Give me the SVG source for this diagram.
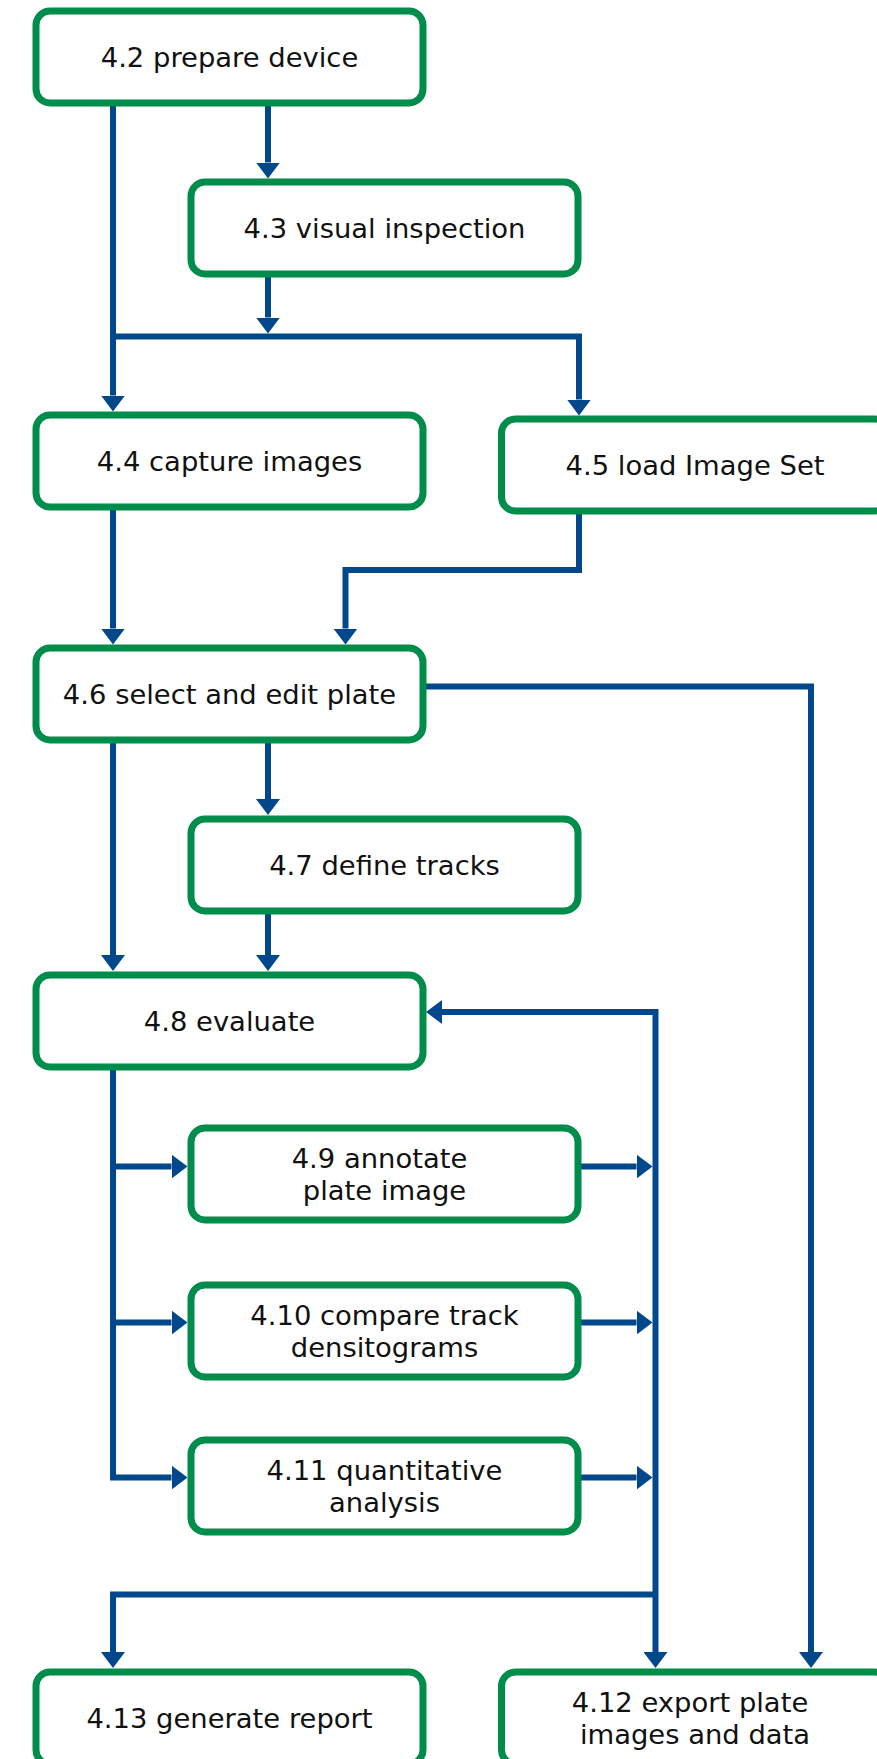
<svg xmlns="http://www.w3.org/2000/svg" width="877" height="1759" viewBox="0 0 877 1759">
<style>
.box{fill:#ffffff;stroke:#008c4b;stroke-width:7}
.lbl{font-family:"DejaVu Sans","Liberation Sans",sans-serif;font-size:27.4px;fill:#111111;text-anchor:middle}
.con{fill:none;stroke:#00478c;stroke-width:6;stroke-linejoin:miter;stroke-linecap:butt}
.ah{marker-end:url(#arr)}
</style>
<defs>
<marker id="arr" viewBox="0 0 16 24" refX="0" refY="12" markerWidth="16" markerHeight="24" markerUnits="userSpaceOnUse" orient="auto-start-reverse">
<path d="M0,0 L16,12 L0,24 z" fill="#00478c"/>
</marker>
</defs>
<rect width="877" height="1759" fill="#ffffff"/>
<g id="connectors">
<path class="con ah" d="M113,104 V395.5"/>
<path class="con ah" d="M113,336.5 H579 V399.5"/>
<path class="con ah" d="M268,104 V162.5"/>
<path class="con ah" d="M268,274 V317.5"/>
<path class="con ah" d="M113,507 V628.5"/>
<path class="con ah" d="M579,510 V570 H345.5 V628.5"/>
<path class="con ah" d="M423,686.5 H811 V1652"/>
<path class="con ah" d="M113,740 V955"/>
<path class="con ah" d="M268,740 V799"/>
<path class="con ah" d="M268,911 V955"/>
<path class="con ah" d="M113,1066 V1477.5 H171.5"/>
<path class="con ah" d="M113,1166.5 H171.5"/>
<path class="con ah" d="M113,1322.5 H171.5"/>
<path class="con ah" d="M578,1166.5 H636.5"/>
<path class="con ah" d="M578,1322.5 H636.5"/>
<path class="con ah" d="M578,1477.5 H636.5"/>
<path class="con" d="M442,1012 H655.5 V1652" marker-start="url(#arr)" marker-end="url(#arr)"/>
<path class="con ah" d="M655.5,1594.5 H113 V1652"/>
</g>
<g id="n42"><rect class="box" x="36" y="11" width="387" height="92" rx="14"/><text class="lbl" x="229.5" y="67">4.2 prepare device</text></g>
<g id="n43"><rect class="box" x="191" y="182" width="387" height="92" rx="14"/><text class="lbl" x="384.5" y="238">4.3 visual inspection</text></g>
<g id="n44"><rect class="box" x="36" y="415" width="387" height="92" rx="14"/><text class="lbl" x="229.5" y="471">4.4 capture images</text></g>
<g id="n45"><rect class="box" x="501.5" y="419" width="387" height="92" rx="14"/><text class="lbl" x="695" y="475">4.5 load Image Set</text></g>
<g id="n46"><rect class="box" x="36" y="648" width="387" height="92" rx="14"/><text class="lbl" x="229.5" y="704">4.6 select and edit plate</text></g>
<g id="n47"><rect class="box" x="191" y="819" width="387" height="92" rx="14"/><text class="lbl" x="384.5" y="875">4.7 define tracks</text></g>
<g id="n48"><rect class="box" x="36" y="975" width="387" height="92" rx="14"/><text class="lbl" x="229.5" y="1031">4.8 evaluate</text></g>
<g id="n49"><rect class="box" x="191" y="1128" width="387" height="92" rx="14"/><text class="lbl" x="379.5" y="1168">4.9 annotate</text><text class="lbl" x="384.5" y="1200">plate image</text></g>
<g id="n410"><rect class="box" x="191" y="1285" width="387" height="92" rx="14"/><text class="lbl" x="384.5" y="1325">4.10 compare track</text><text class="lbl" x="384.5" y="1357">densitograms</text></g>
<g id="n411"><rect class="box" x="191" y="1440" width="387" height="92" rx="14"/><text class="lbl" x="384.5" y="1480">4.11 quantitative</text><text class="lbl" x="384.5" y="1512">analysis</text></g>
<g id="n413"><rect class="box" x="36" y="1672" width="387" height="92" rx="14"/><text class="lbl" x="229.5" y="1728">4.13 generate report</text></g>
<g id="n412"><rect class="box" x="501.5" y="1672" width="387" height="92" rx="14"/><text class="lbl" x="690" y="1712">4.12 export plate</text><text class="lbl" x="695" y="1744">images and data</text></g>
</svg>
